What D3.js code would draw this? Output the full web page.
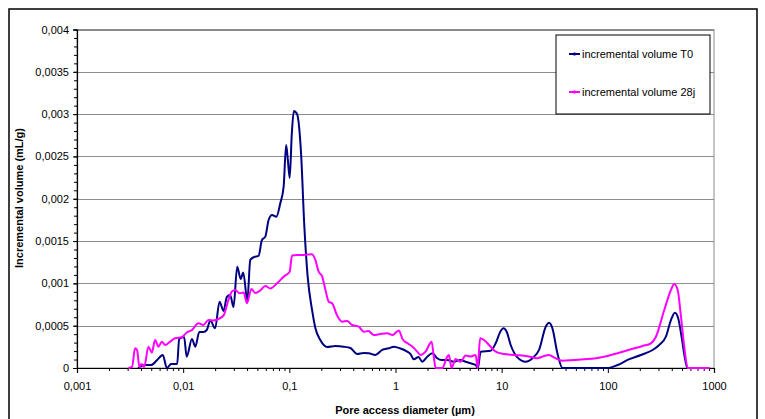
<!DOCTYPE html>
<html><head><meta charset="utf-8">
<script src="https://cdn.jsdelivr.net/npm/d3@7"></script>
<style>
html,body{margin:0;padding:0;background:#fff;}
svg{display:block;font-family:"Liberation Sans",Arial,sans-serif;}
</style></head>
<body>
<svg id="chart" width="765" height="419"></svg>
<script>
// ---- data ----
const seriesNames = ["incremental volume T0", "incremental volume 28j"];
const seriesColors = ["#000080", "#FF00FF"];

// T0 : pore diameter (µm) / incremental volume (mL/g)
const diamT0 = [0.00376,0.00439,0.00499,0.00569,0.00643,0.00702,0.00771,0.00878,0.00917,0.0102,
0.0108,0.0121,0.0130,0.0142,0.0155,0.0167,0.0180,0.0200,0.0220,0.0240,
0.0258,0.0277,0.0298,0.0323,0.0348,0.0368,0.0402,0.0429,0.0468,0.0513,
0.0552,0.0594,0.0638,0.0687,0.0754,0.0822,0.0884,0.0933,0.0968,0.1007,
0.1056,0.1103,0.1182,0.1289,0.1385,0.1488,0.1637,0.1758,0.1959,0.2268,
0.2716,0.3252,0.3758,0.435,0.499,0.560,0.647,0.749,0.865,0.964,
1.115,1.289,1.385,1.488,1.648,1.786,1.991,2.219,2.473,2.716,
3.074,3.548,4.10,4.571,5.10,5.69,5.97,6.34,7.87,8.78,
9.79,10.38,11.15,12.16,14.06,16.84,19.49,22.49,26.0,27.93,
30.06,33.5,37.4,55.6,99.4,123.5,153.5,204.7,264.2,304.8,
352.4,393,428.5,460,495.5,532,562,607,702,904];
const volT0 = [0,0.000035,0.000035,0.000095,0.000154,0,0.000047,0.000047,0.000343,0.000366,
0.000134,0.000343,0.000252,0.000426,0.000426,0.000449,0.000561,0.000469,0.000784,0.000674,
0.000839,0.000863,0.000721,0.001197,0.001052,0.001129,0.000798,0.001277,0.001312,0.001324,
0.001513,0.001552,0.001749,0.001808,0.001788,0.001947,0.002143,0.002636,0.002459,0.002246,
0.002778,0.003038,0.003002,0.002541,0.00167,0.001079,0.000686,0.000473,0.000331,0.000248,
0.00026,0.000252,0.000236,0.000165,0.000177,0.000174,0.000154,0.000213,0.000233,0.000252,
0.00023,0.000193,0.000165,0.000103,0.00013,0.000074,0.000134,0.000174,0.000115,0.000095,
0.000095,0.000074,0.000095,0.000074,0.000056,0.000035,0,0.000193,0.000204,0.000292,
0.000437,0.000469,0.000429,0.000272,0.000126,0.000074,0.000115,0.000213,0.000488,0.000535,
0.000469,0.000174,0,0,0,0.000035,0.000095,0.000154,0.000213,0.000272,
0.00037,0.000567,0.000654,0.000587,0.000366,0.000118,0,0,0,0];

// 28j : pore diameter (µm) / incremental volume (mL/g)
const diam28j = [0.00305,0.0033,0.00352,0.00368,0.00387,0.00406,0.00429,0.00471,0.00507,0.00544,
0.00585,0.0063,0.00676,0.00754,0.00841,0.00972,0.0108,0.0121,0.0139,0.0155,
0.0173,0.0193,0.0215,0.024,0.0267,0.0288,0.0309,0.034,0.0371,0.0399,
0.0439,0.0478,0.0532,0.0594,0.0662,0.0766,0.0884,0.1007,0.106,0.1182,
0.1364,0.1637,0.1758,0.1889,0.2034,0.2188,0.235,0.2529,0.2818,0.314,
0.35,0.391,0.451,0.502,0.556,0.624,0.721,0.835,0.937,1.074,
1.164,1.298,1.446,1.602,1.722,1.919,2.188,2.297,2.384,2.754,
3.074,3.184,3.374,3.68,4.10,4.571,5.10,5.69,5.94,6.27,
6.81,7.87,8.78,10.51,13.06,16.84,19.49,21.73,25.06,27.93,
31.12,37.4,48.1,59.7,77.1,99.4,127.8,164.8,212.5,254.7,
283.8,340,393,421.7,455,488.6,524.8,565,702,904];
const vol28j = [0,0.000012,0.000233,0.000213,0.000012,0.000047,0.000012,0.000252,0.000183,0.000331,
0.000252,0.000311,0.000272,0.000311,0.000351,0.000363,0.00042,0.000449,0.000528,0.000508,
0.000567,0.000561,0.000579,0.000621,0.000804,0.000904,0.000922,0.000883,0.000892,0.000765,
0.000934,0.000887,0.000916,0.000969,0.00094,0.001001,0.001079,0.001138,0.00133,0.001336,
0.001336,0.001344,0.001277,0.001138,0.001087,0.000922,0.000784,0.000765,0.000621,0.000547,
0.000556,0.000508,0.000488,0.000429,0.000437,0.00039,0.000402,0.00041,0.00039,0.000443,
0.000343,0.000292,0.000252,0.000193,0.000154,0.000193,0.000311,0.00013,0,0,
0.000134,0.000154,0,0.000106,0.000074,0.000148,0.000136,0.000154,0,0.000351,
0.000331,0.000252,0.000193,0.000165,0.000154,0.000142,0.000126,0.000115,0.000142,0.000154,
0.000126,0.000086,0.000095,0.000103,0.000115,0.000142,0.000181,0.000221,0.00026,0.000292,
0.00037,0.000686,0.000922,0.000993,0.000922,0.000606,0.000252,0,0,0];

const xTickValues = [0.001,0.01,0.1,1,10,100,1000];
const xTickLabels = ["0,001","0,01","0,1","1","10","100","1000"];
const yTickValues = [0,0.0005,0.001,0.0015,0.002,0.0025,0.003,0.0035,0.004];
const yTickLabels = ["0","0,0005","0,001","0,0015","0,002","0,0025","0,003","0,0035","0,004"];
const xTitle = "Pore access diameter (µm)";
const yTitle = "Incremental volume (mL/g)";

// ---- layout ----
const svg = d3.select("#chart");
const L = 77, R = 714, T = 29.5, B = 368;
const x = d3.scaleLog().domain([0.001,1000]).range([L,R]);
const y = d3.scaleLinear().domain([0,0.004]).range([B,T]);

// outer border
svg.append("rect").attr("x",9).attr("y",9).attr("width",748).attr("height",420)
  .attr("fill","#fff").attr("stroke","#000").attr("stroke-width",1.5);

// plot area + gridlines
svg.append("rect").attr("x",L).attr("y",T).attr("width",R-L).attr("height",B-T)
  .attr("fill","#fff").attr("stroke","#8c8c8c").attr("stroke-width",1);
svg.append("g").selectAll("line").data(yTickValues.slice(1)).join("line")
  .attr("x1",L).attr("x2",R).attr("y1",d=>Math.round(y(d))+0.5).attr("y2",d=>Math.round(y(d))+0.5)
  .attr("stroke","#8c8c8c").attr("stroke-width",1);

// y axis
const yMinor = d3.range(0,41).map(i=>i*0.0001);
const yAxis = svg.append("g").attr("transform",`translate(${L},0)`);
yAxis.call(d3.axisLeft(y).tickValues(yMinor).tickSize(3).tickFormat(""));
yAxis.call(g=>g.select(".domain").remove());
const yMaj = svg.append("g").attr("transform",`translate(${L},0)`)
  .call(d3.axisLeft(y).tickValues(yTickValues).tickSize(4).tickPadding(4)
    .tickFormat((d,i)=>yTickLabels[i]));
yMaj.selectAll("text").attr("font-size","11px").attr("fill","#000")
  .attr("font-family","'Liberation Sans',Arial,sans-serif");
svg.selectAll(".tick line").attr("stroke","#000");
svg.selectAll(".domain").attr("stroke","#000");

// x axis
const xMinor = [];
for (let e=-3;e<3;e++) for (let k=2;k<=9;k++) xMinor.push(k*Math.pow(10,e));
const xAxisMinor = svg.append("g").attr("transform",`translate(0,${B})`)
  .call(d3.axisBottom(x).tickValues(xMinor).tickSize(3).tickFormat(""));
xAxisMinor.select(".domain").remove();
const xAxis = svg.append("g").attr("transform",`translate(0,${B})`)
  .call(d3.axisBottom(x).tickValues(xTickValues).tickSize(5).tickPadding(9)
    .tickFormat((d,i)=>xTickLabels[i]));
xAxis.selectAll("text").attr("font-size","11px").attr("fill","#000")
  .attr("font-family","'Liberation Sans',Arial,sans-serif");
svg.selectAll(".tick line").attr("stroke","#000");
svg.selectAll(".domain").attr("stroke","#000").attr("stroke-width",1.2);

// titles
svg.append("text").attr("x",405).attr("y",414).attr("text-anchor","middle")
  .attr("font-size","11px").attr("font-weight","bold").text(xTitle);
svg.append("text").attr("transform","translate(23,198) rotate(-90)").attr("text-anchor","middle")
  .attr("font-size","11px").attr("font-weight","bold").text(yTitle);

// lines
const series = [
  {name:seriesNames[0], color:seriesColors[0], data:diamT0.map((d,i)=>[d,volT0[i]])},
  {name:seriesNames[1], color:seriesColors[1], data:diam28j.map((d,i)=>[d,vol28j[i]])}
];
const line = d3.line().x(d=>x(d[0])).y(d=>y(d[1])).curve(d3.curveMonotoneX);
const plot = svg.append("g");
series.forEach(s=>{
  plot.append("path").attr("d",line(s.data)).attr("fill","none")
    .attr("stroke",s.color).attr("stroke-width",2).attr("stroke-linejoin","round");
});

// legend
const lg = svg.append("g");
lg.append("rect").attr("x",556).attr("y",35).attr("width",154).attr("height",79)
  .attr("fill","#fff").attr("stroke","#000").attr("stroke-width",1);
series.forEach((s,i)=>{
  const yy = 54 + i*38;
  lg.append("line").attr("x1",569).attr("x2",580).attr("y1",yy).attr("y2",yy)
    .attr("stroke",s.color).attr("stroke-width",2);
  lg.append("rect").attr("x",573.5).attr("y",yy-1.5).attr("width",2).attr("height",3).attr("fill",s.color);
  lg.append("text").attr("x",582).attr("y",yy+4).attr("font-size","11px").text(s.name);
});
</script>
</body></html>
